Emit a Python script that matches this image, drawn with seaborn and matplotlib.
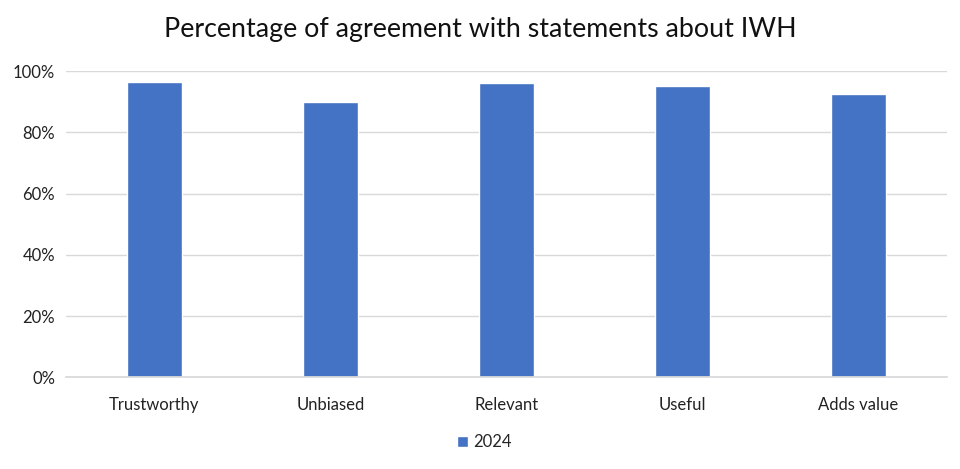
import numpy as np
import pandas as pd
import matplotlib
matplotlib.use("Agg")
import matplotlib.pyplot as plt
import seaborn as sns
from matplotlib.ticker import PercentFormatter

categories = ["Trustworthy", "Unbiased", "Relevant", "Useful", "Adds value"]
values_2024 = [0.965, 0.899, 0.961, 0.951, 0.925]
series_name = "2024"

df = pd.DataFrame({"statement": categories, "share": values_2024,
                   "year": series_name})

sns.set_theme(style="white")
plt.rcParams["font.family"] = ["Lato", "DejaVu Sans"]

fig = plt.figure(figsize=(9.6, 4.69), dpi=100)
ax = fig.add_axes([0.069, 0.1955, 0.917, 0.653])

sns.barplot(data=df, x="statement", y="share", hue="year",
            palette=["#4472C4"], width=0.31, ax=ax, saturation=1)

ax.set_ylim(0, 1.0)
ax.set_yticks(np.arange(0, 1.01, 0.2))
ax.yaxis.set_major_formatter(PercentFormatter(1.0, decimals=0))
ax.yaxis.grid(True, color="#D9D9D9", linewidth=1)
ax.set_axisbelow(True)
for side in ["top", "right", "left"]:
    ax.spines[side].set_visible(False)
ax.spines["bottom"].set_color("#D9D9D9")
ax.tick_params(axis="both", length=0, labelsize=12, colors="#222222", pad=8)
ax.tick_params(axis="x", pad=14)
ax.set_xlabel("")
ax.set_ylabel("")

ax.legend(loc="upper center", bbox_to_anchor=(0.475, -0.137), frameon=False,
          fontsize=12, handlelength=0.7, handleheight=0.7, handletextpad=0.3)

fig.text(0.5, 0.937, "Percentage of agreement with statements about IWH",
         ha="center", va="center", fontsize=19.3, color="#111111")

fig.savefig("out.png", dpi=100)
